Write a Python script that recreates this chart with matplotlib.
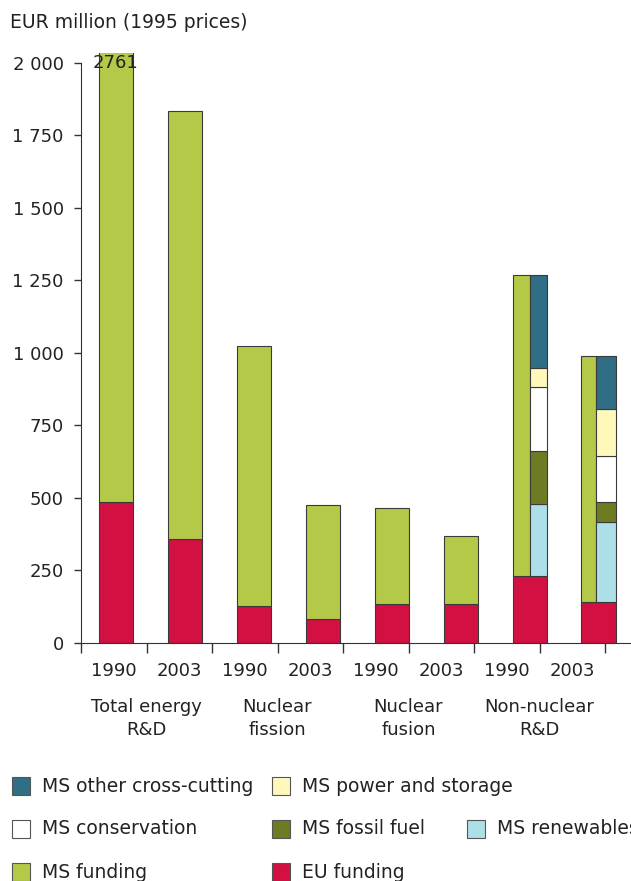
import numpy as np
import matplotlib
matplotlib.use('Agg')
import matplotlib.pyplot as plt
from matplotlib.patches import Rectangle

# Data (EUR million, 1995 prices)
years = ['1990', '2003', '1990', '2003', '1990', '2003', '1990', '2003']
groups = ['Total energy\nR&D', 'Nuclear\nfission', 'Nuclear\nfusion', 'Non-nuclear\nR&D']
eu_funding = [486, 359, 128, 83, 134, 134, 230, 143]
ms_funding = [2275, 1475, 896, 393, 332, 235, 1040, 847]
# MS breakdown of non-nuclear R&D (1990, 2003)
ms_renewables = [248, 275]
ms_fossil = [184, 69]
ms_conservation = [220, 158]
ms_power = [65, 160]
ms_other = [323, 185]

c_other = '#2F6E84'
c_power = '#FFF8BB'
c_cons = '#FFFFFF'
c_fossil = '#6D7B23'
c_renew = '#ADDFE8'
c_ms = '#B5C948'
c_eu = '#D21042'
edge = '#3A3A3A'

plt.rcParams['font.family'] = 'DejaVu Sans'
plt.rcParams['font.size'] = 13

fig = plt.figure(figsize=(6.31, 8.81), dpi=100)
W, H = 631, 881
ax = fig.add_axes([81 / W, (H - 643) / H, 1 - 81 / W, (643 - 53) / H])

unit = 65.5  # px per category slot
xpos = 0.53 + 1.053 * np.arange(len(years))
bw = 0.52

# full bars for the first six
ax.bar(xpos[:6], eu_funding[:6], bw, color=c_eu, edgecolor=edge, linewidth=0.8)
ax.bar(xpos[:6], ms_funding[:6], bw, bottom=eu_funding[:6], color=c_ms,
       edgecolor=edge, linewidth=0.8)

# non-nuclear: EU full width, MS total on left part, breakdown on right part
nn = xpos[6:]
eu_nn = np.array(eu_funding[6:])
lw_ = np.array([17, 15]) / unit
rw_ = bw - lw_
left_edge = nn - bw / 2
ax.bar(nn, eu_nn, bw, color=c_eu, edgecolor=edge, linewidth=0.8)
ax.bar(left_edge, ms_funding[6:], lw_, bottom=eu_nn, align='edge', color=c_ms,
       edgecolor=edge, linewidth=0.8)
bottom = eu_nn.astype(float)
for vals, col in [(ms_renewables, c_renew), (ms_fossil, c_fossil),
                  (ms_conservation, c_cons), (ms_power, c_power), (ms_other, c_other)]:
    ax.bar(left_edge + lw_, vals, rw_, bottom=bottom, align='edge', color=col,
           edgecolor=edge, linewidth=0.8)
    bottom = bottom + np.array(vals)

# value label of the clipped bar
total0 = eu_funding[0] + ms_funding[0]
ax.text(xpos[0], 2000, str(total0), ha='center', va='center', color='#222222',
        clip_on=False)

ax.set_xlim(0, (W - 81) / unit)
ax.set_ylim(0, 2034)
yt = np.arange(0, 2001, 250)
ax.set_yticks(yt)
ax.set_yticklabels([f'{v:,}'.replace(',', ' ') for v in yt])
ax.set_xticks(np.arange(0, 9))
ax.set_xticklabels([])
ax.set_xticks(np.arange(8) + 0.5, minor=True)
ax.set_xticklabels(years, minor=True)
ax.tick_params(axis='x', which='major', length=7, width=1, direction='out', color='#333333')
ax.tick_params(axis='x', which='minor', length=0, pad=14, labelcolor='#222222')
ax.tick_params(axis='y', length=5, width=1, pad=7.5, labelcolor='#222222', color='#333333')
for s in ['top', 'right']:
    ax.spines[s].set_visible(False)
for s in ['left', 'bottom']:
    ax.spines[s].set_color('#333333')
ax.spines['left'].set_bounds(0, 2000)

for i, g in enumerate(groups):
    ax.text(2 * i + 1, -0.093 * 2034, g, ha='center', va='top',
            color='#222222', linespacing=1.4, clip_on=False)

fig.text(10 / W, 1 - 22 / H, 'EUR million (1995 prices)', ha='left', va='center',
         color='#222222', fontsize=13.5)

# legend
leg_labels = ['MS other cross-cutting', 'MS power and storage', 'MS conservation',
              'MS fossil fuel', 'MS renewables', 'MS funding', 'EU funding']
leg_colors = [c_other, c_power, c_cons, c_fossil, c_renew, c_ms, c_eu]
leg_xy = [(12, 786), (272, 786), (12, 829), (272, 829), (467, 829), (12, 872), (272, 872)]
for lab, col, (px, py) in zip(leg_labels, leg_colors, leg_xy):
    fig.patches.append(Rectangle((px / W, 1 - (py + 9) / H), 18 / W, 18 / H,
                                 transform=fig.transFigure, facecolor=col,
                                 edgecolor='#555555', linewidth=0.8))
    fig.text((px + 30) / W, 1 - py / H, lab, ha='left', va='center', color='#222222',
             fontsize=13.5)

fig.savefig('out.png', dpi=100)
